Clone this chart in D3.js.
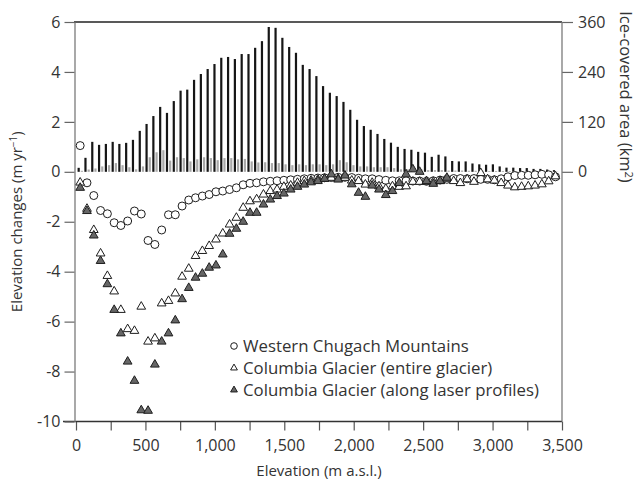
<!DOCTYPE html>
<html>
<head>
<meta charset="utf-8">
<script src="https://cdn.jsdelivr.net/npm/d3@7/dist/d3.min.js"></script>
<style>
  body { margin: 0; background: #fff; }
  svg text { font-family: "Open Sans", "Lato", sans-serif; font-weight: 400; fill: #333; }
</style>
</head>
<body>
<svg id="chart" width="638" height="483"></svg>
<script>
// elevation of each 50-m band as placed in the picture (m a.s.l.)
var elevs = [30, 79, 128, 177, 226, 275, 323, 372, 421, 470, 519, 568, 617, 666, 715, 764, 812, 861, 910, 959,
  1008, 1057, 1106, 1155, 1204, 1253, 1301, 1350, 1399, 1448, 1497, 1546, 1595, 1644, 1693, 1742, 1790, 1839, 1888, 1937,
  1986, 2035, 2084, 2133, 2182, 2231, 2279, 2328, 2377, 2426, 2475, 2524, 2573, 2622, 2671, 2720, 2768, 2817, 2866, 2915,
  2964, 3013, 3062, 3111, 3160, 3209, 3257, 3306, 3355, 3404, 3453];

// ice-covered area (km2), black bars
var areaChugach = [9.6, 33.6, 72, 64.8, 67, 72, 67, 69.6, 76.8, 98.4, 115, 134, 156, 141.6, 170, 195, 197.5, 221, 235, 247,
  259, 274, 276, 271, 283, 283, 298, 314, 348, 346, 322, 300, 286, 257, 247, 230, 206, 190, 182, 168,
  149, 125, 110, 101, 91, 79, 70, 60, 55, 53, 48, 46, 36, 41, 37, 26, 25, 25, 20, 18,
  17, 18, 13, 10, 10, 9, 9, 7, 7, 5.5, 4];

// ice-covered area (km2), grey bars
var areaColumbia = [2.4, 5.5, 8, 13, 16, 21, 16, 11, 6, 13, 35, 47, 52, 27, 35, 33, 25, 30, 35, 33,
  28, 33, 33, 30, 31, 25, 22.5, 23, 21, 21, 18, 16, 18, 16, 18, 18, 16, 18, 28, 23,
  16, 13, 13, 11, 11, 11, 9, 6, 6, 9, 6, 4, 4, 4, 3, 3, 3, 2.5, 2.5, 2.5,
  2, 2, 2, 2, 1.5, 1.5, 1, 1, 1, 0.5, 0.5];

// elevation changes (m/yr)
var dhChugach = [1.05, -0.44, -0.95, -1.55, -1.68, -2.04, -2.15, -1.97, -1.57, -1.69, -2.75, -2.91, -2.33, -1.72, -1.72, -1.37, -1.13, -1.04, -0.97, -0.91,
  -0.80, -0.77, -0.71, -0.64, -0.52, -0.46, -0.44, -0.40, -0.38, -0.36, -0.34, -0.32, -0.30, -0.28, -0.26, -0.25, -0.24, -0.23, -0.22, -0.22,
  -0.23, -0.26, -0.28, -0.28, -0.31, -0.34, -0.36, -0.36, -0.36, -0.37, -0.37, -0.38, -0.36, -0.33, -0.30, -0.27, -0.27, -0.28, -0.27, -0.30,
  -0.30, -0.32, -0.28, -0.20, -0.15, -0.14, -0.14, -0.12, -0.10, -0.12, -0.20];

var dhColumbiaAll = [-0.43, -1.48, -2.33, -3.27, -4.17, -4.79, -5.53, -6.3, -6.37, -5.4, -6.8, -6.67, -5.27, -5.17, -4.87, -4.2, -3.88, -3.37, -3.17, -2.97,
  -2.71, -2.47, -2.11, -1.84, -1.44, -1.18, -1.10, -0.91, -0.77, -0.71, -0.60, -0.55, -0.44, -0.37, -0.35, -0.31, -0.28, -0.24, -0.28, -0.24,
  -0.35, -0.37, -0.51, -0.44, -0.58, -0.68, -0.58, -0.60, -0.58, -0.40, -0.40, -0.40, -0.40, -0.37, -0.28, -0.37, -0.45, -0.30, -0.40, -0.05,
  -0.30, -0.35, -0.45, -0.55, -0.62, -0.60, -0.58, -0.55, -0.50, -0.38, -0.18];

var dhColumbiaLaser = [-0.64, -1.57, -2.55, -3.57, -4.5, -5.53, -6.47, -7.6, -8.37, -9.55, -9.57, -7.72, -6.8, -6.47, -5.95, -5.1, -4.65, -4.24, -4.08, -3.84,
  -3.75, -3.31, -2.48, -2.28, -2.0, -1.64, -1.64, -1.31, -1.11, -0.97, -0.87, -0.71, -0.60, -0.51, -0.42, -0.37, -0.28, -0.10, -0.31, -0.15,
  -0.50, -0.84, -1.00, -0.55, -0.71, -0.93, -0.77, -0.45, -0.10, 0.10, 0.0, -0.37, -0.48, -0.37, -0.24];

var xTicks = [0, 250, 500, 750, 1000, 1250, 1500, 1750, 2000, 2250, 2500, 2750, 3000, 3250, 3500];
var yTicks = [-10, -8, -6, -4, -2, 0, 2, 4, 6];
var areaTicks = [0, 120, 240, 360];
var legendNames = ["Western Chugach Mountains", "Columbia Glacier (entire glacier)", "Columbia Glacier (along laser profiles)"];

var svg = d3.select("#chart");
var x = d3.scaleLinear().domain([0, 3500]).range([76, 562]);
var y = d3.scaleLinear().domain([-10, 6]).range([421.5, 22]);
var yArea = d3.scaleLinear().domain([0, 360]).range([y(0), y(6)]);

// bars
var bars = svg.append("g");
bars.selectAll(".barC").data(elevs).enter().append("rect")
  .attr("x", function(d) { return x(d) - 2.6; })
  .attr("width", 2.2)
  .attr("y", function(d, i) { return yArea(areaChugach[i]); })
  .attr("height", function(d, i) { return yArea(0) - yArea(areaChugach[i]); })
  .attr("fill", "#161616");
bars.selectAll(".barG").data(elevs).enter().append("rect")
  .attr("x", function(d) { return x(d) + 0.6; })
  .attr("width", 2.2)
  .attr("y", function(d, i) { return yArea(areaColumbia[i]); })
  .attr("height", function(d, i) { return yArea(0) - yArea(areaColumbia[i]); })
  .attr("fill", "#a8a8a8");

// frame and axes
svg.append("line").attr("x1", x(0) - 2).attr("x2", x(3500)).attr("y1", y(6)).attr("y2", y(6))
  .attr("stroke", "#222").attr("stroke-width", 1.3);

var xAxis = d3.axisBottom(x).tickValues(xTicks).tickSize(9).tickSizeOuter(0)
  .tickFormat(function(d) { return d % 500 === 0 ? d3.format(",")(d) : ""; });
var gx = svg.append("g").attr("transform", "translate(0," + y(-10) + ")").call(xAxis);
gx.select(".domain").remove();
gx.selectAll(".tick line").attr("stroke", "#555").attr("stroke-width", 1.2);
gx.selectAll(".tick text").attr("dy", 0).attr("y", 29).style("font-size", "16px");
svg.append("line").attr("x1", x(0) - 13).attr("x2", x(3500)).attr("y1", y(-10)).attr("y2", y(-10))
  .attr("stroke", "#333").attr("stroke-width", 1.3);

var yAxis = d3.axisLeft(y).tickValues(yTicks).tickSize(10).tickSizeOuter(0)
  .tickFormat(function(d) { return String(d); });
var gy = svg.append("g").attr("transform", "translate(" + (x(0) - 1.5) + ",0)").call(yAxis);
gy.select(".domain").attr("stroke", "#7a7a7a").attr("stroke-width", 1.3);
gy.selectAll(".tick line").attr("stroke", "#666").attr("stroke-width", 1.2);
gy.selectAll(".tick text").attr("x", -14).style("font-size", "16px");

var rAxis = d3.axisRight(yArea).tickValues(areaTicks).tickSize(11).tickSizeOuter(0);
var gr = svg.append("g").attr("transform", "translate(" + x(3500) + ",0)").call(rAxis);
gr.select(".domain").remove();
gr.selectAll(".tick line").attr("stroke", "#666").attr("stroke-width", 1.2);
gr.selectAll(".tick text").attr("x", 16).style("font-size", "16px");
svg.append("line").attr("x1", x(3500)).attr("x2", x(3500)).attr("y1", y(6)).attr("y2", y(-10))
  .attr("stroke", "#7a7a7a").attr("stroke-width", 1.3);

svg.selectAll(".tick text").attr("fill", "#333");

// axis titles
svg.append("text").attr("x", (x(0) + x(3500)) / 2).attr("y", 476).attr("text-anchor", "middle")
  .style("font-size", "15px").text("Elevation (m a.s.l.)");
var lt = svg.append("text").attr("transform", "translate(22," + ((y(6) + y(-10)) / 2) + ") rotate(-90)")
  .attr("text-anchor", "middle").style("font-size", "15px");
lt.append("tspan").text("Elevation changes (m yr");
lt.append("tspan").attr("dy", -5).style("font-size", "10px").text("−1");
lt.append("tspan").attr("dy", 5).text(")");
var rt = svg.append("text").attr("transform", "translate(620," + ((yArea(0) + yArea(360)) / 2) + ") rotate(90)")
  .attr("text-anchor", "middle").style("font-size", "16.5px");
rt.append("tspan").text("Ice-covered area (km");
rt.append("tspan").attr("dy", -5).style("font-size", "11px").text("2");
rt.append("tspan").attr("dy", 5).text(")");

// points
var tri = d3.symbol().type(d3.symbolTriangle).size(33);
var pts = svg.append("g");
pts.selectAll(".c").data(dhChugach).enter().append("circle")
  .attr("cx", function(d, i) { return x(elevs[i]); })
  .attr("cy", function(d) { return y(d); })
  .attr("r", 4).attr("fill", "#fff").attr("stroke", "#1e1e1e").attr("stroke-width", 1);
pts.selectAll(".t").data(dhColumbiaAll).enter().append("path")
  .attr("d", tri)
  .attr("transform", function(d, i) { return "translate(" + x(elevs[i]) + "," + y(d) + ")"; })
  .attr("fill", "#fff").attr("stroke", "#1e1e1e").attr("stroke-width", 1);
pts.selectAll(".f").data(dhColumbiaLaser).enter().append("path")
  .attr("d", tri)
  .attr("transform", function(d, i) { return "translate(" + x(elevs[i]) + "," + y(d) + ")"; })
  .attr("fill", "#666").attr("stroke", "#1e1e1e").attr("stroke-width", 1);

// legend
var legTri = d3.symbol().type(d3.symbolTriangle).size(20);
var leg = svg.append("g").attr("transform", "translate(234,346)");
legendNames.forEach(function(name, i) {
  var row = leg.append("g").attr("transform", "translate(0," + (i * 22) + ")");
  if (i === 0) {
    row.append("circle").attr("r", 3.3).attr("fill", "#fff").attr("stroke", "#1e1e1e");
  } else {
    row.append("path").attr("d", legTri).attr("fill", i === 1 ? "#fff" : "#666").attr("stroke", "#1e1e1e");
  }
  row.append("text").attr("x", 9).attr("y", 6).style("font-size", "16.8px").text(name);
});
</script>
</body>
</html>
